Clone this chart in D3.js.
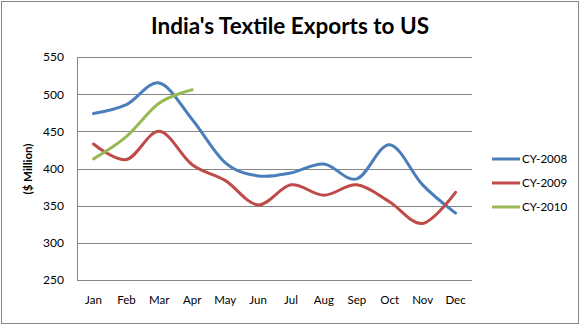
<!DOCTYPE html>
<html><head><meta charset="utf-8">
<script src="https://cdn.jsdelivr.net/npm/d3@7"></script>
<style>body{margin:0;background:#fff}svg{display:block}text{font-family:Lato,"Open Sans",sans-serif;fill:#000}</style>
</head><body>
<svg id="c" width="581" height="326"></svg>
<script>
const months = ["Jan","Feb","Mar","Apr","May","Jun","Jul","Aug","Sep","Oct","Nov","Dec"];
const cy2008 = [474, 486, 515, 466, 408, 390, 394, 406, 386, 432, 378, 340];
const cy2009 = [433, 412, 450, 405, 384, 351, 378, 364, 378, 355, 326, 368];
const cy2010 = [413, 443, 488, 506];
const yTicks = [250, 300, 350, 400, 450, 500, 550];
const seriesNames = ["CY-2008","CY-2009","CY-2010"];
const colors = ["#4A7EBB","#BE4B48","#98B954"];
const series = [cy2008, cy2009, cy2010];

const svg = d3.select("#c");
svg.append("rect").attr("x",1.5).attr("y",1.5).attr("width",577).attr("height",322)
  .attr("fill","#fff").attr("stroke","#868686").attr("stroke-width",1);

const L=77, R=472, T=57, B=280;
const x = d3.scaleBand().domain(months).range([L,R]);
const y = d3.scaleLinear().domain([250,550]).range([B,T]);

// gridlines
svg.append("g").selectAll("line").data(yTicks).join("line")
  .attr("x1",L).attr("x2",R).attr("y1",d=>Math.round(y(d))+0.5).attr("y2",d=>Math.round(y(d))+0.5)
  .attr("stroke","#868686").attr("stroke-width",1);
svg.append("line").attr("x1",L+0.5).attr("x2",L+0.5).attr("y1",T).attr("y2",B+0.5)
  .attr("stroke","#868686");

// y axis labels
const yAxis = d3.axisLeft(y).tickValues(yTicks).tickSize(0).tickPadding(13);
const gy = svg.append("g").attr("transform",`translate(${L},0)`).call(yAxis);
gy.select(".domain").remove();
gy.selectAll("text").style("font-family","Lato, sans-serif").style("font-size","12px").attr("fill","#000");

// x axis labels
const xAxis = d3.axisBottom(x).tickSize(0).tickPadding(16);
const gx = svg.append("g").attr("transform",`translate(0,${B})`).call(xAxis);
gx.select(".domain").remove();
gx.selectAll("text").style("font-family","Lato, sans-serif").style("font-size","11.5px").attr("fill","#000");

// lines
const line = d3.line().x((d,i)=>x(months[i])+x.bandwidth()/2).y(d=>y(d)).curve(d3.curveCardinal.tension(0));
series.forEach((s,i)=>{
  svg.append("path").datum(s).attr("d",line).attr("fill","none")
    .attr("stroke",colors[i]).attr("stroke-width",3).attr("stroke-linejoin","round").attr("stroke-linecap","round");
});

// title
svg.append("text").attr("x",290).attr("y",34).attr("text-anchor","middle")
  .style("font-size","22.5px").style("font-weight","bold").text("India's Textile Exports to US");

// y label
svg.append("text").attr("transform","translate(32,169) rotate(-90)").attr("text-anchor","middle")
  .style("font-size","11.5px").style("font-weight","bold").text("($ Million)");

// legend
const lg = svg.append("g");
seriesNames.forEach((n,i)=>{
  const yy = 159 + i*24;
  lg.append("line").attr("x1",492).attr("x2",520).attr("y1",yy).attr("y2",yy)
    .attr("stroke",colors[i]).attr("stroke-width",3);
  lg.append("text").attr("x",522).attr("y",yy).attr("dy","0.35em")
    .style("font-size","11.5px").text(n);
});
</script>
</body></html>
